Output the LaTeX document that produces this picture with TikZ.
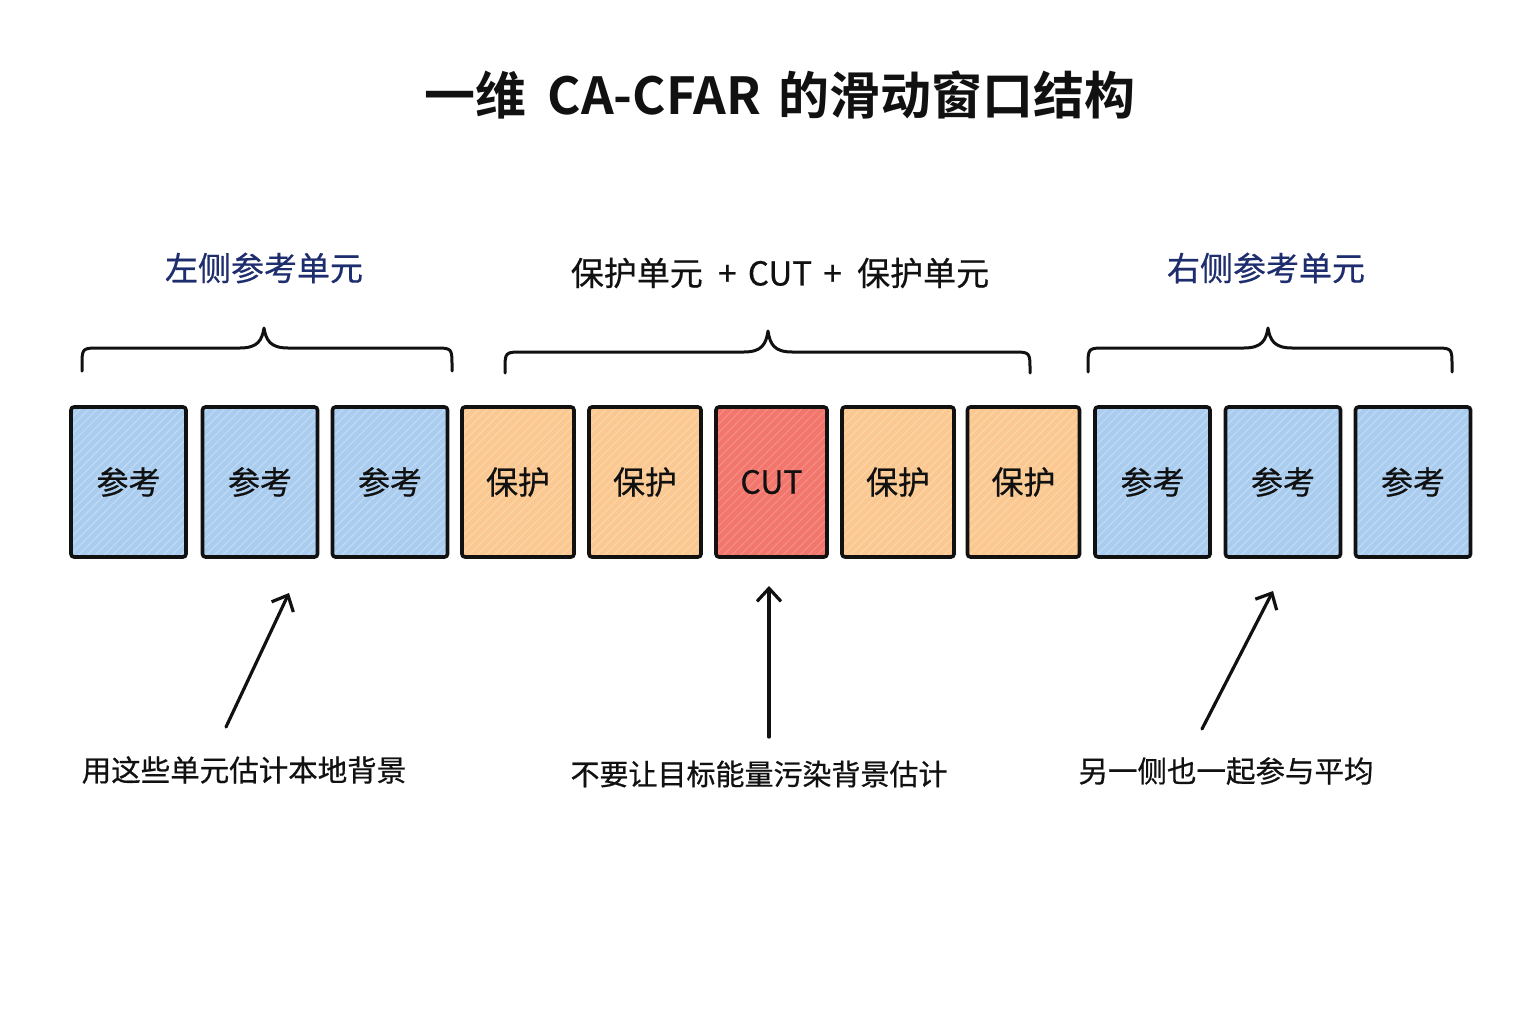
\documentclass[tikz,border=0pt]{standalone}
\usepackage{fontspec}
\setmainfont{Noto Sans CJK SC}
\newfontfamily\cjk[FakeBold=0.6]{Noto Sans CJK SC}
\newfontfamily\cjkbold{Noto Sans CJK SC Bold}
\usetikzlibrary{arrows.meta,patterns.meta}
\definecolor{refblue}{HTML}{AACDEF}
\definecolor{refblueL}{HTML}{BFDAF4}
\definecolor{guardor}{HTML}{FAC890}
\definecolor{guardorL}{HTML}{FCD6A8}
\definecolor{cutred}{HTML}{F2766C}
\definecolor{cutredL}{HTML}{F58D84}
\definecolor{navy}{HTML}{1E2D6E}
\definecolor{ink}{HTML}{111111}
\tikzset{
  cell/.style={draw=ink, line width=3.6pt, rounded corners=3pt, minimum height=150pt, inner sep=0pt,
    font=\cjk\fontsize{32}{36}\selectfont, text=ink},
  refcell/.style={cell, minimum width=115pt, preaction={fill=refblue},
    pattern={Lines[angle=45,distance=6pt,line width=1.2pt]}, pattern color=refblueL},
  guardcell/.style={cell, minimum width=112pt, preaction={fill=guardor},
    pattern={Lines[angle=45,distance=6pt,line width=1.2pt]}, pattern color=guardorL},
  cutcell/.style={cell, minimum width=111pt, preaction={fill=cutred},
    pattern={Lines[angle=45,distance=6pt,line width=1.2pt]}, pattern color=cutredL},
  bracepath/.style={draw=ink, line width=3pt, line cap=round, line join=round},
  pointer/.style={draw=ink, line width=3.2pt, line cap=round, -{Straight Barb[length=13pt,width=24pt,line width=3.2pt]}},
  note/.style={font=\cjk\fontsize{29.5}{34}\selectfont, text=ink},
  grouplabel/.style={font=\cjk\fontsize{33}{38}\selectfont},
}
\begin{document}
\begin{tikzpicture}[x=1pt,y=-1pt]
\useasboundingbox[fill=white] (0,0) rectangle (1536,1024);

% title
\node[font=\cjkbold\fontsize{51}{56}\selectfont, text=ink] (title) at (780,95) {一维\hspace{10pt} CA-CFAR\hspace{6pt} 的滑动窗口结构};

% group labels
\node[grouplabel, text=navy] (lblL) at (264,268) {左侧参考单元};
\node[grouplabel, text=ink] (lblM) at (780,273) {保护单元\hspace{8pt} + \hspace{4pt}CUT\hspace{4pt} + \hspace{8pt}保护单元};
\node[grouplabel, text=navy] (lblR) at (1266,268) {右侧参考单元};

% braces
\draw[bracepath] (82,371) -- (82,366) .. controls (82,348) .. (100,348) -- (240,348)
  .. controls (258,348) and (262,340) .. (264,328)
  .. controls (266,340) and (270,348) .. (288,348) -- (434,348)
  .. controls (452,348) .. (452,366) -- (452,371);
\draw[bracepath] (505,373) -- (505,370) .. controls (505,352) .. (523,352) -- (744,352)
  .. controls (762,352) and (766,344) .. (768,331)
  .. controls (770,344) and (774,352) .. (792,352) -- (1012,352)
  .. controls (1030,352) .. (1030,370) -- (1030,373);
\draw[bracepath] (1088,372) -- (1088,366) .. controls (1088,348) .. (1106,348) -- (1244,348)
  .. controls (1262,348) and (1266,340) .. (1268,328)
  .. controls (1270,340) and (1274,348) .. (1292,348) -- (1434,348)
  .. controls (1452,348) .. (1452,366) -- (1452,372);

% cells
\node[refcell] (c1) at (128.5,482) {参考};
\node[refcell] (c2) at (260,482) {参考};
\node[refcell] (c3) at (390,482) {参考};
\node[guardcell] (c4) at (518,482) {保护};
\node[guardcell] (c5) at (645,482) {保护};
\node[cutcell] (c6) at (771.5,482) {CUT};
\node[guardcell] (c7) at (898,482) {保护};
\node[guardcell] (c8) at (1023.5,482) {保护};
\node[refcell] (c9) at (1152.5,482) {参考};
\node[refcell] (c10) at (1283,482) {参考};
\node[refcell] (c11) at (1413,482) {参考};

% notes
\node[note] (n1) at (244,770) {用这些单元估计本地背景};
\node[note, font=\cjk\fontsize{29}{34}\selectfont] (n2) at (759,774) {不要让目标能量污染背景估计};
\node[note] (n3) at (1226,771) {另一侧也一起参与平均};

% pointers
\coordinate (p1s) at (226,727);
\coordinate (p1e) at (289,593);
\coordinate (p2s) at (769,737);
\coordinate (p2e) at (769,586);
\coordinate (p3s) at (1202,729);
\coordinate (p3e) at (1273,591);
\draw[pointer] (p1s) -- (p1e);
\draw[pointer] (p2s) -- (p2e);
\draw[pointer] (p3s) -- (p3e);
\end{tikzpicture}
\end{document}
